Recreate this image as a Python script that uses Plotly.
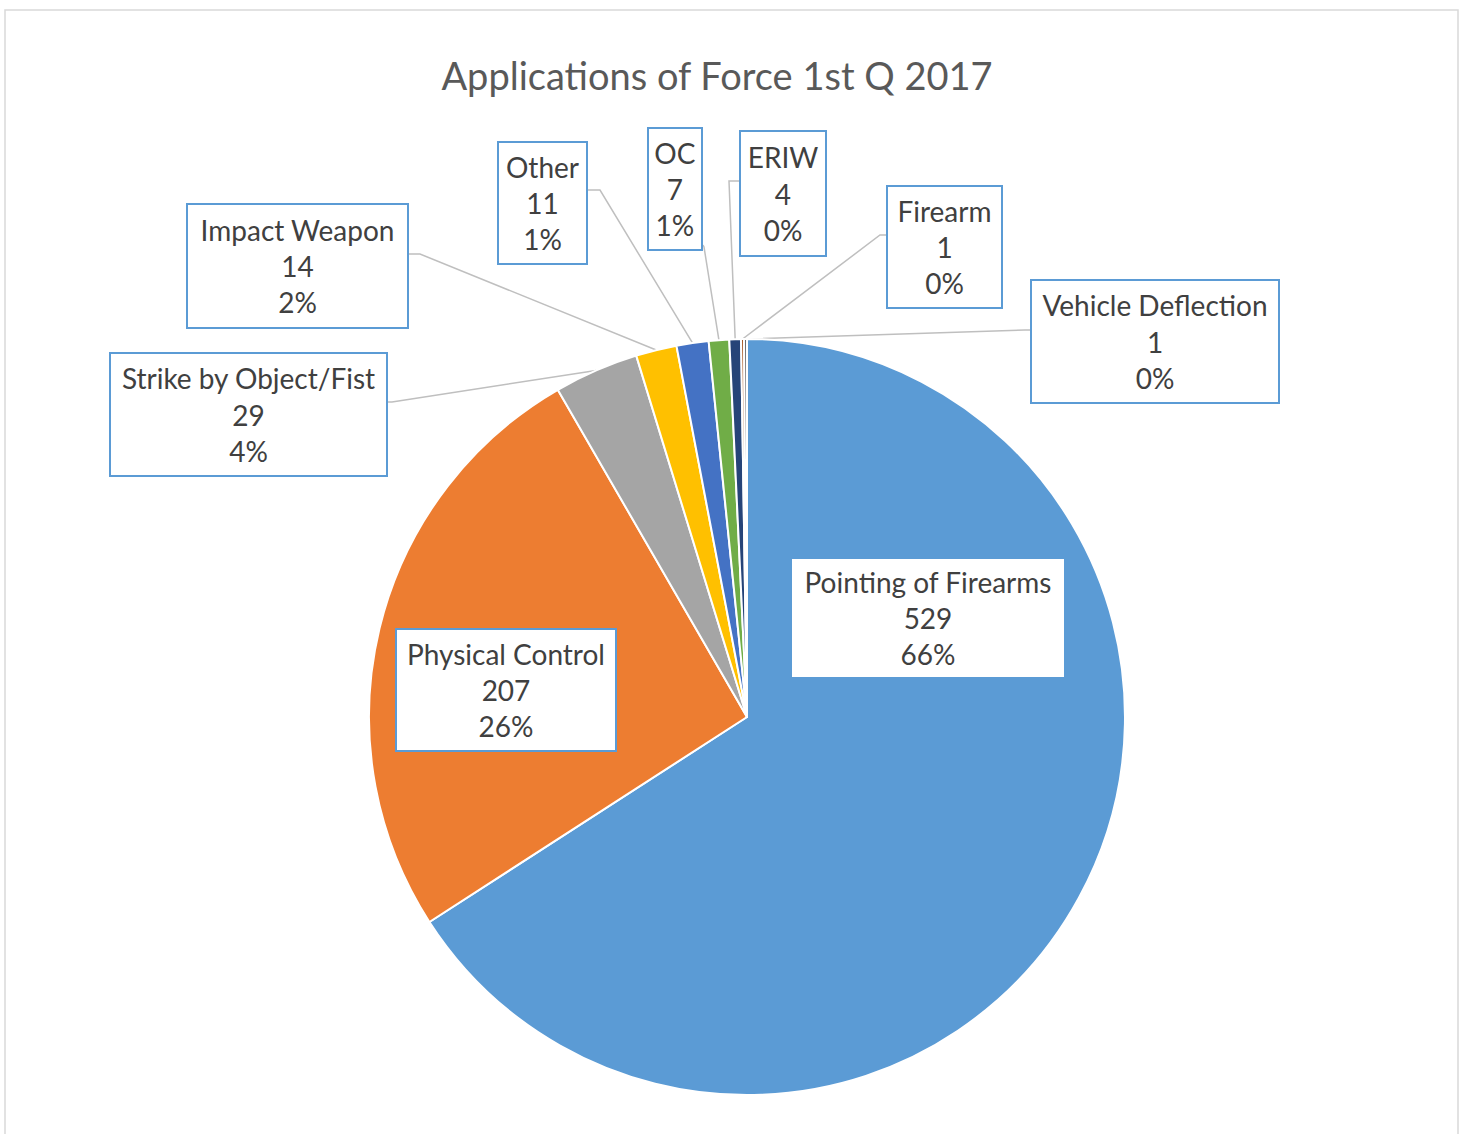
import math
import numpy as np
import plotly.graph_objects as go

# ---- data ----
categories = ["Pointing of Firearms", "Physical Control", "Strike by Object/Fist",
              "Impact Weapon", "Other", "OC", "ERIW", "Firearm", "Vehicle Deflection"]
values = [529, 207, 29, 14, 11, 7, 4, 1, 1]
colors = ["#5B9BD5", "#ED7D31", "#A5A5A5", "#FFC000", "#4472C4", "#70AD47",
          "#264478", "#9E480E", "#636363"]
title_text = "Applications of Force 1st Q 2017"

W, H = 1466, 1134
CX, CY, R = 747, 717, 378  # pie centre / radius in pixels


def px(x):
    return x / W


def py(y):
    return 1 - y / H


total = sum(values)
pct = [round(100 * v / total) for v in values]

fig = go.Figure()
fig.add_trace(go.Pie(
    labels=categories, values=values, sort=False, direction="clockwise",
    rotation=0, textinfo="none", hoverinfo="label+value+percent",
    marker=dict(colors=colors, line=dict(color="white", width=2)),
    domain=dict(x=[px(CX - R), px(CX + R)], y=[py(CY + R), py(CY - R)]),
    showlegend=False,
))

# label box layout: centre x, centre y, box width, box height (pixels)
boxes = [
    (928, 618, 276, 122),
    (506, 690, 222, 124),
    (248, 414, 279, 125),
    (297, 266, 223, 126),
    (542, 203, 91, 124),
    (675, 189, 56, 124),
    (783, 194, 88, 127),
    (944, 247, 117, 124),
    (1155, 341, 250, 125),
]
# leader line: box attach point and elbow (pixels); None for inside labels
leaders = [
    None,
    None,
    ((387, 402), (392, 402)),
    ((409, 254), (420, 254)),
    ((588, 190), (600, 190)),
    ((703, 245), (704, 247)),
    ((739, 181), (729, 181)),
    ((886, 235), (880, 235)),
    ((1030, 330), (1025, 330)),
]

FONT = "Lato, Open Sans, sans-serif"
annotations = []
shapes = []
cum = np.cumsum([0] + values)
for i, cat in enumerate(categories):
    cxp, cyp, bw, bh = boxes[i]
    inside = leaders[i] is None
    annotations.append(dict(
        x=px(cxp), y=py(cyp), xref="paper", yref="paper",
        xanchor="center", yanchor="middle", showarrow=False,
        text=f"{cat}<br>{values[i]}<br>{pct[i]}%",
        font=dict(family=FONT, size=28, color="#404040"),
        align="center", bgcolor="white", bordercolor="#5B9BD5", borderwidth=2,
        borderpad=0, width=bw - 4, height=bh - 4,
    ))
    if not inside:
        mid = (cum[i] + cum[i + 1]) / 2 / total
        ang = 2 * math.pi * mid
        ex = CX + R * math.sin(ang)
        ey = CY - R * math.cos(ang)
        (ax, ay), (kx, ky) = leaders[i]
        path = f"M {px(ax)} {py(ay)} L {px(kx)} {py(ky)} L {px(ex)} {py(ey)}"
        shapes.append(dict(type="path", xref="paper", yref="paper", path=path,
                           line=dict(color="#BFBFBF", width=1.5), layer="below"))

# outer chart frame
shapes.append(dict(type="rect", xref="paper", yref="paper",
                   x0=px(5), x1=px(1458), y0=py(1140), y1=py(10),
                   line=dict(color="#D9D9D9", width=1.5), layer="below"))

fig.update_layout(
    width=W, height=H, margin=dict(l=0, r=0, t=0, b=0),
    paper_bgcolor="white", plot_bgcolor="white",
    title=dict(text=title_text, x=px(717), y=py(77), xanchor="center", yanchor="middle",
               font=dict(family=FONT, size=38, color="#595959")),
    annotations=annotations, shapes=shapes,
)

fig.write_html("out.html", config={"displayModeBar": False},
               post_script="document.body.style.margin='0px';document.body.style.overflow='hidden';")
